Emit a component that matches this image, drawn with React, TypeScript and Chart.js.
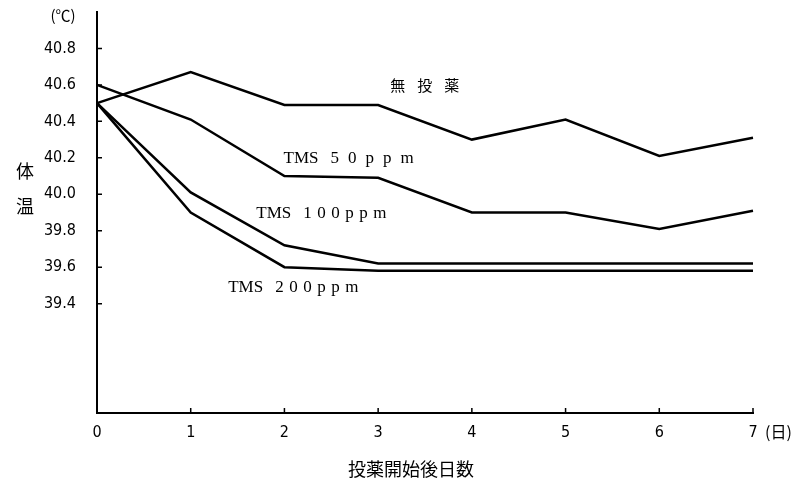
import React, { useEffect, useRef } from "react";
import { Chart, registerables } from "chart.js";
Chart.register(...registerables);

// ---- data ----
const days = [0, 1, 2, 3, 4, 5, 6, 7];
const noDrug = [40.5, 40.67, 40.49, 40.49, 40.3, 40.41, 40.21, 40.31];
const tms50 = [40.6, 40.41, 40.1, 40.09, 39.9, 39.9, 39.81, 39.91];
const tms100 = [40.5, 40.01, 39.72, 39.62, 39.62, 39.62, 39.62, 39.62];
const tms200 = [40.5, 39.9, 39.6, 39.58, 39.58, 39.58, 39.58, 39.58];
const yTicks = [39.4, 39.6, 39.8, 40.0, 40.2, 40.4, 40.6, 40.8];
const xTicks = [0, 1, 2, 3, 4, 5, 6, 7];
const seriesNames = ["無投薬", "TMS 50ppm", "TMS 100ppm", "TMS 200ppm"];
// label anchors (left edge) in data coordinates [day, °C]
const labelDays = [3.13, 1.99, 1.7, 1.4];
const labelTemps = [40.6, 40.197, 39.897, 39.49];

const tickFont = "'Liberation Sans Narrow', 'DejaVu Sans Condensed', sans-serif";
const cjkFont = "'Noto Sans CJK JP', sans-serif";
const serifFont = "'Liberation Serif', serif";

const decor = {
  id: "decor",
  afterDraw(chart: any) {
    const { ctx, scales } = chart;
    const x = scales.x;
    const y = scales.y;
    ctx.save();
    ctx.strokeStyle = "#000";
    ctx.lineWidth = 1.5;
    ctx.beginPath();
    yTicks.forEach((v) => {
      const py = y.getPixelForValue(v);
      ctx.moveTo(x.left, py);
      ctx.lineTo(x.left + 5, py);
    });
    xTicks.slice(1).forEach((d) => {
      const px = x.getPixelForValue(d);
      ctx.moveTo(px, y.bottom);
      ctx.lineTo(px, y.bottom - 5);
    });
    ctx.stroke();

    ctx.fillStyle = "#000";
    ctx.textBaseline = "middle";
    // series labels
    seriesNames.forEach((name, i) => {
      const px = x.getPixelForValue(labelDays[i]);
      const py = y.getPixelForValue(labelTemps[i]);
      ctx.textAlign = "left";
      if (i === 0) {
        ctx.font = `15px ${cjkFont}`;
        (ctx as any).letterSpacing = "12px";
        ctx.fillText(name, px, py);
      } else {
        const parts = name.split(" ");
        ctx.font = `17px ${serifFont}`;
        (ctx as any).letterSpacing = "0px";
        ctx.fillText(parts[0], px, py);
        const w = ctx.measureText(parts[0]).width;
        (ctx as any).letterSpacing = i === 1 ? "9px" : "5.5px";
        ctx.fillText(parts[1], px + w + 12, py);
      }
    });
    (ctx as any).letterSpacing = "0px";

    // y title (vertical)
    ctx.textAlign = "center";
    ctx.font = `18px ${cjkFont}`;
    ctx.fillText("体", 25, 171);
    ctx.fillText("温", 25, 206);
    ctx.font = `15px ${cjkFont}`;
    ctx.fillText("(℃)", 63, 15);
    // x unit
    ctx.textAlign = "left";
    ctx.font = `16px ${cjkFont}`;
    ctx.fillText("(日)", x.getPixelForValue(7) + 12, 432);
    // x title
    ctx.textAlign = "center";
    ctx.font = `18px ${cjkFont}`;
    ctx.fillText("投薬開始後日数", 411, 469);
    ctx.restore();
  },
};

export default function App() {
  const ref = useRef<HTMLCanvasElement | null>(null);
  useEffect(() => {
    if (!ref.current) return;
    const mk = (data: number[]) => ({
      data: days.map((d, i) => ({ x: d, y: data[i] })),
      borderColor: "#000",
      borderWidth: 2.5,
      pointRadius: 0,
      tension: 0,
      fill: false,
      clip: false as any,
    });
    const chart = new Chart(ref.current, {
      type: "line",
      data: {
        datasets: [mk(noDrug), mk(tms50), mk(tms100), mk(tms200)],
      },
      options: {
        animation: false,
        responsive: false,
        layout: { padding: { left: 0, top: 12, right: 42, bottom: 0 } },
        plugins: { legend: { display: false }, tooltip: { enabled: false } },
        scales: {
          x: {
            type: "linear",
            min: 0,
            max: 7,
            afterBuildTicks: (s: any) => {
              s.ticks = xTicks.map((v) => ({ value: v }));
            },
            afterFit: (s: any) => {
              s.height = 74;
              s.paddingLeft = 0;
              s.paddingRight = 0;
            },
            ticks: {
              color: "#000",
              padding: 10,
              maxRotation: 0,
              font: { family: tickFont, size: 16 },
              callback: (v: any) => String(v),
            },
            grid: { drawOnChartArea: false, drawTicks: false },
            border: { color: "#000", width: 2 },
          },
          y: {
            type: "linear",
            min: 38.8,
            max: 41.0,
            afterBuildTicks: (s: any) => {
              s.ticks = yTicks.map((v) => ({ value: v }));
            },
            afterFit: (s: any) => {
              s.width = 97;
              s.paddingTop = 0;
              s.paddingBottom = 0;
            },
            ticks: {
              color: "#000",
              padding: 21,
              font: { family: tickFont, size: 16 },
              callback: (v: any) => Number(v).toFixed(1),
            },
            grid: { drawOnChartArea: false, drawTicks: false },
            border: { color: "#000", width: 2 },
          },
        },
      },
      plugins: [decor],
    });
    return () => chart.destroy();
  }, []);
  return (
    <div style={{ position: "absolute", left: 0, top: 0, width: 795, height: 487, background: "#fff" }}>
      <canvas ref={ref} width={795} height={487} style={{ display: "block" }} />
    </div>
  );
}
